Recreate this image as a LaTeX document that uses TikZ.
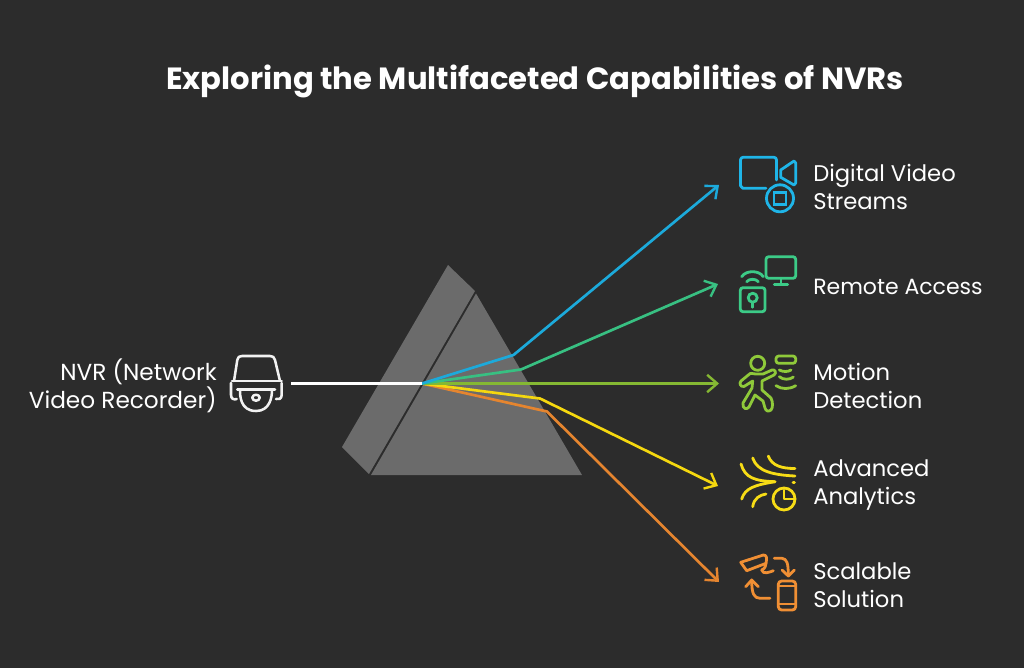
\documentclass[tikz,border=0pt]{standalone}
\usepackage{fontspec}
\setmainfont{Poppins}
\usetikzlibrary{arrows.meta}
\definecolor{bg}{HTML}{2C2C2C}
\definecolor{pr}{HTML}{6B6B6B}
\definecolor{cblue}{HTML}{1FB5E8}
\definecolor{cgreen}{HTML}{3CCB87}
\definecolor{clime}{HTML}{8FC93A}
\definecolor{cyellow}{HTML}{F7DC16}
\definecolor{corange}{HTML}{F08F34}
\definecolor{rblue}{HTML}{1CAADB}
\definecolor{rgreen}{HTML}{38C082}
\definecolor{rlime}{HTML}{85B833}
\definecolor{ryellow}{HTML}{F5D80F}
\definecolor{rorange}{HTML}{E5852F}
\definecolor{cgray}{HTML}{F2F2F2}
\tikzset{
  ray/.style={line width=2pt,line join=round},
  arrowray/.style={ray,-{Straight Barb[length=7.5pt,width=13pt,line width=1.8pt]}},
  icon/.style={line width=2.1pt,line cap=round,line join=round},
  lbl/.style={text=white,font=\fontsize{17pt}{21pt}\selectfont,align=left,anchor=west,inner sep=0pt},
}
\begin{document}
\begin{tikzpicture}[x=0.75pt,y=-0.75pt]
\useasboundingbox (0,0) rectangle (1024,668);
\fill[bg] (0,0) rectangle (1024,668);
\node[text=white,font=\fontsize{23pt}{26pt}\selectfont\bfseries,inner sep=0pt] (title) at (535,81) {Exploring the Multifaceted Capabilities of NVRs};
% prism
\fill[pr] (448,265) -- (475,291) -- (369,474) -- (342,447) -- cycle;
\fill[pr] (476,293.5) -- (582,475) -- (371,475) -- cycle;
% rays
\coordinate (src) at (291,383.5);
\coordinate (c) at (422,383.5);
\coordinate (b1) at (513.5,355); \coordinate (e1) at (719,185);
\coordinate (b2) at (521,369.5); \coordinate (e2) at (718,284);
\coordinate (e3) at (719,383.5);
\coordinate (b4) at (540,398.5); \coordinate (e4) at (718,486);
\coordinate (b5) at (547,411.5); \coordinate (e5) at (719,582);
\draw[arrowray,rorange] (c) -- (b5) -- (e5);
\draw[arrowray,ryellow] (c) -- (b4) -- (e4);
\draw[arrowray,rlime] (c) -- (e3);
\draw[arrowray,rgreen] (c) -- (b2) -- (e2);
\draw[arrowray,rblue] (c) -- (b1) -- (e1);
\draw[ray,white] (src) -- (c);
% labels
\node[lbl] (l1) at (813,187) {Digital Video\\Streams};
\node[lbl,font=\fontsize{16.5pt}{21pt}\selectfont] (l2) at (813,287) {Remote Access};
\node[lbl] (l3) at (813,386) {Motion\\Detection};
\node[lbl] (l4) at (813,485.5) {Advanced\\Analytics};
\node[lbl] (l5) at (813,585) {Scalable\\Solution};
\node[lbl,align=right,anchor=east,font=\fontsize{17.4pt}{21pt}\selectfont] (l0) at (217,386) {NVR (Network\\Video Recorder)};
% blue icon
\begin{scope}[icon,cblue]
\draw (766,188.3) -- (743,188.3) to[out=180,in=90] (740.5,186) -- (740.5,160) to[out=90,in=180] (743,157.3) -- (774,157.3) to[out=0,in=90] (776.5,160) -- (776.5,180);
\draw (780.7,170) -- (794,161) to[out=-20,in=90] (795.7,163) -- (795.7,183) to[out=-90,in=20] (794,185) -- (780.7,177.3) -- cycle;
\draw (780,198.3) circle (13.5);
\draw[line join=miter] (774,192.7) rectangle (786,204.3);
\end{scope}
% green icon
\begin{scope}[icon,cgreen]
\draw[rounded corners=2pt] (766,256.7) rectangle (795.7,278.3);
\draw (781,278.3) -- (781,284.3) (774.3,284.3) -- (787.7,284.3);
\draw[rounded corners=2pt] (740.3,287.7) rectangle (765,311.7);
\draw (752.7,297.7) circle (4.5);
\draw (752.7,302.2) -- (752.7,307.3);
\draw (741.7,276.7) .. controls (746,270) and (759,270) .. (763.3,276.7);
\draw (746.7,281.7) .. controls (749,278.5) and (756,278.5) .. (758.3,281.7);
\end{scope}
% lime icon
\begin{scope}[icon,clime]
\draw (757.7,363.3) circle (7);
\draw[rounded corners=2pt] (776,356) rectangle (795.7,363.3);
\draw (748.3,375) .. controls (751,372) and (752,374) .. (756,374) -- (763,374) -- (772,370) .. controls (775,369) and (777,373) .. (774,375) -- (762,381) -- (762,390) -- (771,398) .. controls (773,402) and (773,408) .. (771,410) .. controls (768,412) and (766,411) .. (765,408) -- (763,401) -- (755,395) -- (749,407) .. controls (747,410) and (742,409) .. (743,403) -- (752,388) -- (752.7,381) -- (744,386.5) .. controls (740,387) and (739,383) .. (741,381) -- cycle;
\draw (779.3,370) .. controls (783,372) and (788,372) .. (791,370);
\draw (779.3,376.7) .. controls (783,380) and (790,380) .. (793.3,377);
\draw (776,385.7) .. controls (782,389.5) and (789,389.5) .. (795.7,385.7);
\end{scope}
% yellow icon
\begin{scope}[icon,cyellow]
\draw (741,464) .. controls (745,478) and (755,481) .. (775,481.7);
\draw (775,481.7) .. controls (755,485) and (745,488) .. (741.7,499);
\draw (752.7,458) .. controls (757,472) and (775,475) .. (795,476);
\draw (768.3,456) .. controls (772,466) and (782,468.5) .. (795,468.5);
\draw (752.7,506.7) .. controls (754,498) and (760,495) .. (766,494);
\draw (793,482.3) -- (794.5,482.3);
\draw (784,499) circle (11);
\draw (784,490) -- (784,499) -- (795,499);
\end{scope}
% orange icon
\begin{scope}[icon,corange]
\draw (740.7,562.3) -- (763.3,555) .. controls (767,555) and (767,558) .. (766,563.3) -- (746.7,570.7) -- cycle;
\draw (766,563.3) .. controls (765.5,568) and (763,570) .. (761.7,570);
\draw (761.7,570) .. controls (763,575) and (770,572) .. (773.3,570.7);
\draw (774.3,558.3) -- (782,558.3) .. controls (787,559) and (788.3,563) .. (788.3,576);
\draw (782,570) -- (788.3,576) -- (794.3,570);
\draw (770,598.3) -- (760,598.3) .. controls (754,598) and (751.7,594) .. (751.7,580);
\draw (745.7,586.7) -- (751.7,580) -- (758.3,586.7);
\draw[rounded corners=2.5pt] (778.3,581) rectangle (795.7,610);
\draw (778.3,586) -- (795.7,586) (778.3,604) -- (795.7,604);
\end{scope}
% gray camera icon
\begin{scope}[icon,cgray,line width=1.9pt]
\draw (234,381) -- (237.3,360) .. controls (238,357) and (239,356) .. (242,356) -- (270,356) .. controls (273,356) and (274,357) .. (275,360) -- (280,381);
\draw (232,381) -- (281.7,381);
\draw (231,383) -- (231,395) .. controls (231,399) and (234,400) .. (236.7,399);
\draw (281.7,383) -- (281.7,395) .. controls (281.7,399) and (278,400) .. (276,399);
\draw (237.3,389.3) -- (275,389.3);
\draw (240,390) .. controls (240,395) and (240,411) .. (256,411) .. controls (270,411) and (272,397) .. (272,390);
\draw (256,397.7) ellipse (3.7 and 3);
\end{scope}
\end{tikzpicture}
\end{document}
